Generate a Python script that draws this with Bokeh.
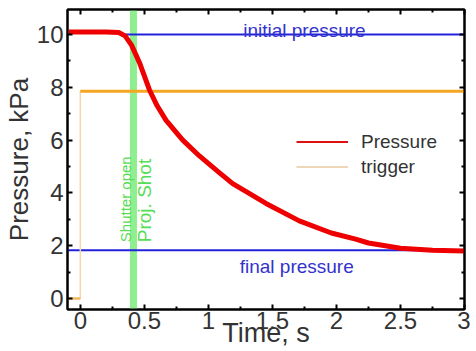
from bokeh.plotting import figure
from bokeh.models import (Range1d, LinearAxis, FixedTicker, Legend, LegendItem)
from bokeh.embed import file_html
from bokeh.resources import INLINE
from bokeh.core.properties import value

# ---- data ----
press_t = [-0.09, 0.0, 0.1, 0.2, 0.3, 0.35, 0.4, 0.465, 0.54, 0.6, 0.67, 0.8, 0.93,
           1.085, 1.19, 1.45, 1.71, 1.96, 2.15, 2.25, 2.5, 2.75, 3.0]
press_p = [10.1, 10.1, 10.1, 10.1, 10.08, 9.95, 9.6, 8.9, 7.9, 7.3, 6.75, 6.0, 5.4,
           4.77, 4.35, 3.6, 2.94, 2.48, 2.25, 2.1, 1.9, 1.83, 1.8]
trig_t = [-0.1, 0.0, 0.0, 3.0]
trig_p = [0.0, 0.0, 7.85, 7.85]
initial_t = [0.35, 3.0]
initial_p = [10.0, 10.0]
final_t = [-0.1, 3.0]
final_p = [1.83, 1.83]
shutter_t = 0.415
x_ticks = [0, 0.5, 1, 1.5, 2, 2.5, 3]
x_tick_labels = ["0", "0.5", "1", "1.5", "2", "2.5", "3"]
x_minor = [0.25, 0.75, 1.25, 1.75, 2.25, 2.75]
y_ticks = [0, 2, 4, 6, 8, 10]
y_tick_labels = ["0", "2", "4", "6", "8", "10"]
y_minor = [1, 3, 5, 7, 9]
x_title = "Time, s"
y_title = "Pressure, kPa"

FONT = "Liberation Sans"
NAN = float("nan")

p = figure(width=470, height=351, output_backend="svg", toolbar_location=None,
           x_range=Range1d(-0.1, 3.0), y_range=Range1d(-0.42, 10.95),
           min_border_left=67, min_border_right=6, min_border_top=9, min_border_bottom=42)
p.xgrid.visible = False
p.ygrid.visible = False
p.outline_line_color = "black"
p.outline_line_width = 2
p.background_fill_color = "white"

def style_axis(ax, labels=True):
    ax.axis_line_color = "black"
    ax.axis_line_width = 2
    ax.major_tick_in = 5
    ax.major_tick_out = 0
    ax.minor_tick_in = 3
    ax.minor_tick_out = 0
    ax.major_tick_line_width = 2
    ax.minor_tick_line_width = 2
    ax.major_tick_line_color = "black"
    ax.minor_tick_line_color = "black"
    ax.major_label_text_font = FONT
    ax.major_label_text_color = "#333333"
    ax.major_label_text_font_size = "24px"
    if not labels:
        ax.major_label_text_color = None
        ax.major_label_text_font_size = "1px"
        ax.major_label_standoff = 0

xt = FixedTicker(ticks=x_ticks, minor_ticks=x_minor)
yt = FixedTicker(ticks=y_ticks, minor_ticks=y_minor)

xa = p.xaxis[0]
xa.ticker = xt
xa.major_label_overrides = dict(zip(x_ticks, x_tick_labels))
style_axis(xa)
xa.major_label_standoff = 2
xa.axis_label = x_title
xa.axis_label_text_font = FONT
xa.axis_label_text_font_size = "27px"
xa.axis_label_text_font_style = "normal"
xa.axis_label_text_color = "#333333"
xa.axis_label_standoff = -14

ya = p.yaxis[0]
ya.ticker = yt
ya.major_label_overrides = dict(zip(y_ticks, y_tick_labels))
style_axis(ya)
ya.major_label_standoff = 4
ya.axis_label = y_title
ya.axis_label_text_font = FONT
ya.axis_label_text_font_size = "26px"
ya.axis_label_text_font_style = "normal"
ya.axis_label_text_color = "#333333"
ya.axis_label_standoff = 0

top = LinearAxis(ticker=FixedTicker(ticks=x_ticks, minor_ticks=x_minor))
style_axis(top, labels=False)
top.major_label_overrides = {t: "" for t in x_ticks}
p.add_layout(top, "above")
right = LinearAxis(ticker=FixedTicker(ticks=y_ticks, minor_ticks=y_minor))
style_axis(right, labels=False)
right.major_label_overrides = {t: "" for t in y_ticks}
p.add_layout(right, "right")

# shutter band
p.line([shutter_t, shutter_t], [-0.42, 10.95], line_color="#8fee8f", line_width=7)

# reference lines
p.line(initial_t, initial_p, line_color="#2222dd", line_width=2)
p.line(final_t, final_p, line_color="#2222dd", line_width=2)

# trigger: thin pale trace, with its two flat levels drawn heavier
p.line(trig_t, trig_p, line_color="#f3d9a8", line_width=1.5)
p.line(trig_t[:2], trig_p[:2], line_color="#f0b860", line_width=2.5)
p.line(trig_t[2:], trig_p[2:], line_color="#f5a623", line_width=3)

# pressure
p.line(press_t, press_p, line_color="#ee0000", line_width=5)

# texts
p.text(x=[1.75], y=[10.15], text=["initial pressure"], text_font=value(FONT),
       text_font_size="19px", text_color="#3333cc", text_align="center",
       text_baseline="alphabetic")
p.text(x=[1.69], y=[1.22], text=["final pressure"], text_font=value(FONT),
       text_font_size="19px", text_color="#3333cc", text_align="center",
       text_baseline="alphabetic")
p.text(x=[0.35], y=[2.13], text=["Shutter open"], text_font=value(FONT),
       text_font_size="15px", text_color="#55dd55", text_align="left",
       text_baseline="middle", angle=1.5708)
p.text(x=[0.505], y=[2.13], text=["Proj. Shot"], text_font=value(FONT),
       text_font_size="19px", text_color="#55dd55", text_align="left",
       text_baseline="middle", angle=1.5708)

# legend proxies (thin lines, as in the reference legend)
lp = p.line([NAN], [NAN], line_color="#dd1111", line_width=2)
lt = p.line([NAN], [NAN], line_color="#e8c9a0", line_width=1.5)
legend = Legend(items=[LegendItem(label="Pressure", renderers=[lp]),
                       LegendItem(label="trigger", renderers=[lt])],
                location=(229, 130), border_line_color=None,
                background_fill_alpha=0, padding=0, margin=0, spacing=0,
                glyph_width=52, glyph_height=25, label_standoff=13,
                label_text_font=FONT, label_text_font_size="19px",
                label_text_color="#333333", label_height=25)
p.add_layout(legend, "center")

open("out.html", "w").write(file_html(p, INLINE))
